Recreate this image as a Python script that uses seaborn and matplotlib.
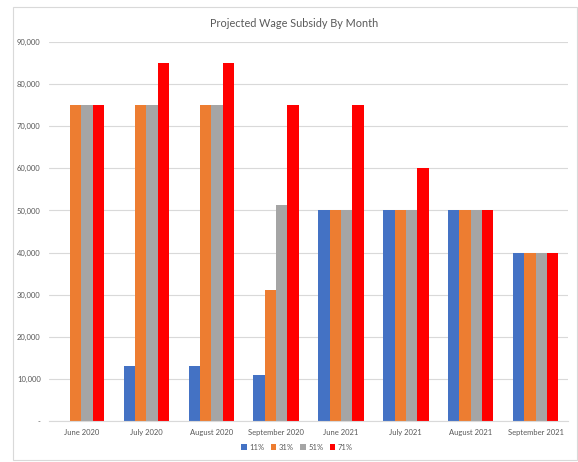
import matplotlib
import matplotlib.pyplot as plt
import pandas as pd
import seaborn as sns
from matplotlib.patches import Patch, Rectangle
from matplotlib.ticker import FuncFormatter

matplotlib.use("Agg")

months = ["June 2020", "July 2020", "August 2020", "September 2020",
          "June 2021", "July 2021", "August 2021", "September 2021"]
rates = ["11%", "31%", "51%", "71%"]
subsidy_11 = [0, 13100, 13100, 10900, 50000, 50000, 50000, 40000]
subsidy_31 = [75000, 75000, 75000, 31000, 50000, 50000, 50000, 40000]
subsidy_51 = [75000, 75000, 75000, 51200, 50000, 50000, 50000, 40000]
subsidy_71 = [75000, 85000, 85000, 75000, 75000, 60000, 50000, 40000]
colors = ["#4472C4", "#ED7D31", "#A5A5A5", "#FF0000"]

series = [subsidy_11, subsidy_31, subsidy_51, subsidy_71]
rows = []
for rate, values in zip(rates, series):
    for month, v in zip(months, values):
        rows.append({"month": month, "rate": rate, "value": v})
df = pd.DataFrame(rows)

sns.set_theme(style="white")
plt.rcParams["font.family"] = ["Lato", "DejaVu Sans"]

fig = plt.figure(figsize=(5.78, 4.62), dpi=100)
ax = fig.add_axes([0.0848, 0.0887, 0.898, 0.8203])

sns.barplot(data=df, x="month", y="value", hue="rate", order=months,
            hue_order=rates, palette=colors, saturation=1, width=0.7,
            linewidth=0, legend=False, ax=ax)

ax.set_ylim(0, 90000)
ax.set_yticks(range(0, 90001, 10000))
ax.yaxis.set_major_formatter(FuncFormatter(lambda v, p: "-" if v == 0 else f"{int(v):,}"))
ax.grid(axis="y", color="#D9D9D9", linewidth=0.8)
ax.set_axisbelow(True)
for side in ["top", "right", "left"]:
    ax.spines[side].set_visible(False)
ax.spines["bottom"].set_color("#D9D9D9")
ax.spines["bottom"].set_linewidth(0.8)
ax.set_xlabel("")
ax.set_ylabel("")
ax.tick_params(axis="both", length=0, labelsize=5.5, labelcolor="#595959")
ax.tick_params(axis="y", pad=6)
ax.tick_params(axis="x", pad=6)

fig.text(0.5095, 1 - 23.5 / 462, "Projected Wage Subsidy By Month",
         ha="center", va="center", fontsize=7.8, color="#595959")

handles = [Patch(facecolor=c, edgecolor="none", label=r) for c, r in zip(colors, rates)]
fig.legend(handles=handles, loc="center", bbox_to_anchor=(297 / 578, 1 - 447 / 462),
           ncol=4, frameon=False, fontsize=5.5, handlelength=0.7, handleheight=0.7,
           handletextpad=0.3, columnspacing=0.9, labelcolor="#595959")

fig.patches.append(Rectangle((13 / 578, 1 - 460 / 462), 564 / 578, 453 / 462,
                             transform=fig.transFigure, fill=False,
                             edgecolor="#D9D9D9", linewidth=0.8))

fig.savefig("out.png", dpi=100)
